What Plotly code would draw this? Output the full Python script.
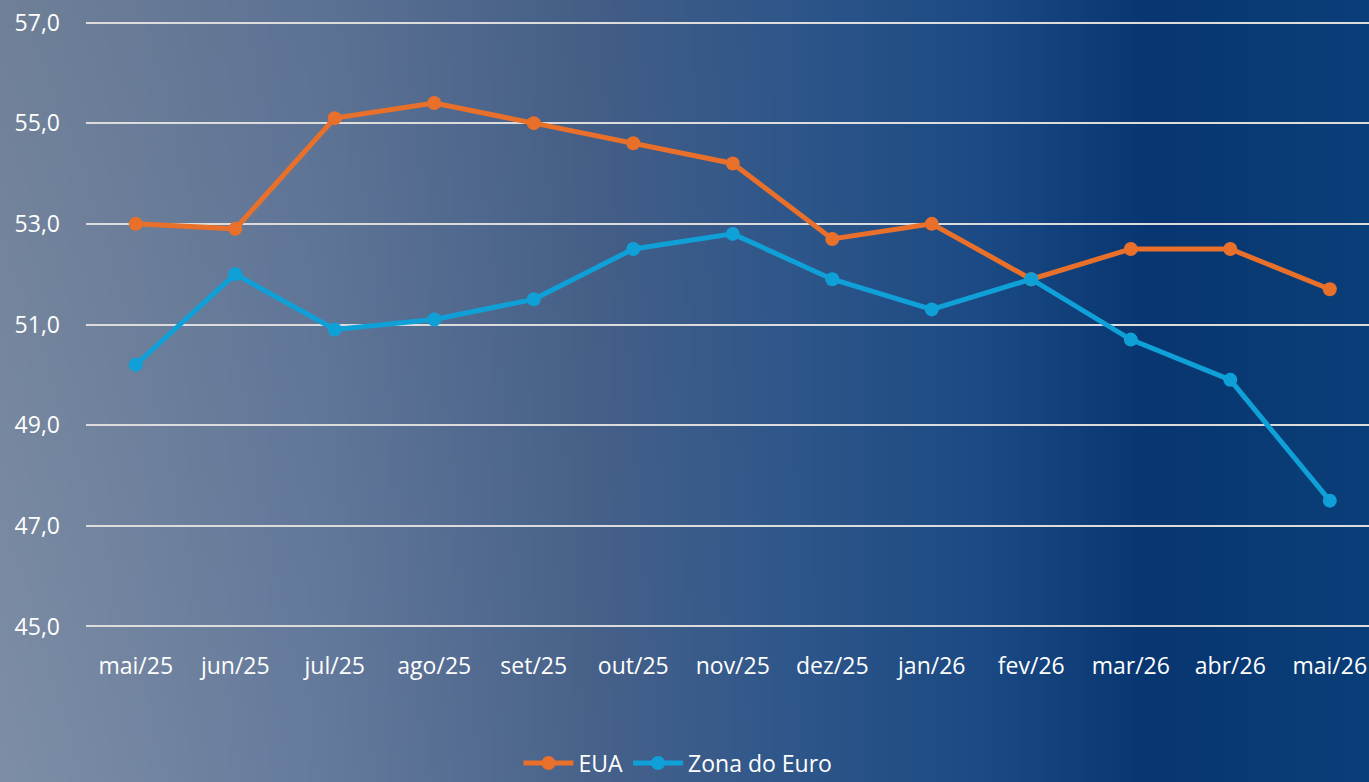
import base64, struct, zlib
import numpy as np
import plotly.graph_objects as go

categories = ["mai/25", "jun/25", "jul/25", "ago/25", "set/25", "out/25", "nov/25",
              "dez/25", "jan/26", "fev/26", "mar/26", "abr/26", "mai/26"]
eua = [53.0, 52.9, 55.1, 55.4, 55.0, 54.6, 54.2, 52.7, 53.0, 51.9, 52.5, 52.5, 51.7]
zona_euro = [50.2, 52.0, 50.9, 51.1, 51.5, 52.5, 52.8, 51.9, 51.3, 51.9, 50.7, 49.9, 47.5]
y_ticks = [45, 47, 49, 51, 53, 55, 57]

W, H = 1369, 782
ML, MR, MT, MB = 86, 0, 21, 154


def make_bg(w=274, h=156):
    xs = np.linspace(0, 1, w)
    ys = np.linspace(0, 1, h)
    stops_x = [0.0, 0.24, 0.43, 0.58, 0.72, 0.84, 1.0]
    stops_c = np.array([
        [112, 128, 152],
        [92, 114, 148],
        [68, 94, 134],
        [46, 86, 138],
        [28, 74, 132],
        [8, 54, 112],
        [11, 63, 121],
    ], dtype=float)
    row = np.stack([np.interp(xs, stops_x, stops_c[:, k]) for k in range(3)], axis=1)
    img = np.zeros((h, w, 3))
    for j, yv in enumerate(ys):
        shade = 14 * yv * np.clip(1 - xs * 1.6, 0, 1)[:, None]
        img[j] = row + shade
    img = np.clip(img, 0, 255).astype(np.uint8)
    raw = b"".join(b"\x00" + img[j].tobytes() for j in range(h))

    def chunk(t, d):
        c = struct.pack(">I", len(d)) + t + d
        return c + struct.pack(">I", zlib.crc32(t + d) & 0xffffffff)

    png = b"\x89PNG\r\n\x1a\n" + chunk(b"IHDR", struct.pack(">IIBBBBB", w, h, 8, 2, 0, 0, 0)) \
        + chunk(b"IDAT", zlib.compress(raw, 9)) + chunk(b"IEND", b"")
    return "data:image/png;base64," + base64.b64encode(png).decode()


pw = W - ML - MR
ph = H - MT - MB

fig = go.Figure()
fig.add_trace(go.Scatter(
    x=categories, y=eua, name="EUA", mode="lines+markers",
    line=dict(color="#E8702A", width=5), marker=dict(size=14, color="#E8702A")))
fig.add_trace(go.Scatter(
    x=categories, y=zona_euro, name="Zona do Euro", mode="lines+markers",
    line=dict(color="#0FA0D8", width=5), marker=dict(size=14, color="#0FA0D8")))

fig.add_layout_image(dict(
    source=make_bg(), xref="paper", yref="paper",
    x=-ML / pw, y=1 + MT / ph, sizex=W / pw, sizey=H / ph,
    xanchor="left", yanchor="top", sizing="stretch", layer="below"))

fig.update_layout(
    width=W, height=H,
    margin=dict(l=ML, r=MR, t=MT, b=MB, autoexpand=False),
    paper_bgcolor="#3a5580", plot_bgcolor="rgba(0,0,0,0)",
    font=dict(family="Open Sans", color="white", size=23),
    separators=",.",
    showlegend=True,
    legend=dict(orientation="h", x=(678 - ML) / pw, xanchor="center",
                y=-(763 - (MT + ph)) / ph, yanchor="middle",
                font=dict(size=23, color="white"), bgcolor="rgba(0,0,0,0)",
                itemwidth=50, tracegroupgap=0),
    xaxis=dict(type="category", range=[-0.5, 12.394], showgrid=False, zeroline=False,
               showline=False, ticks="", tickfont=dict(size=23, color="white"),
               ticklabelstandoff=22),
    yaxis=dict(range=[44.97, 57.03], tickvals=y_ticks, tickformat=".1f",
               showgrid=True, gridcolor="#dcdcdc", gridwidth=2, zeroline=False,
               showline=False, ticks="", tickfont=dict(size=23, color="white"),
               ticklabelstandoff=25),
)

fig.write_html("out.html", config={"displayModeBar": False},
               post_script="document.body.style.margin='0';")
